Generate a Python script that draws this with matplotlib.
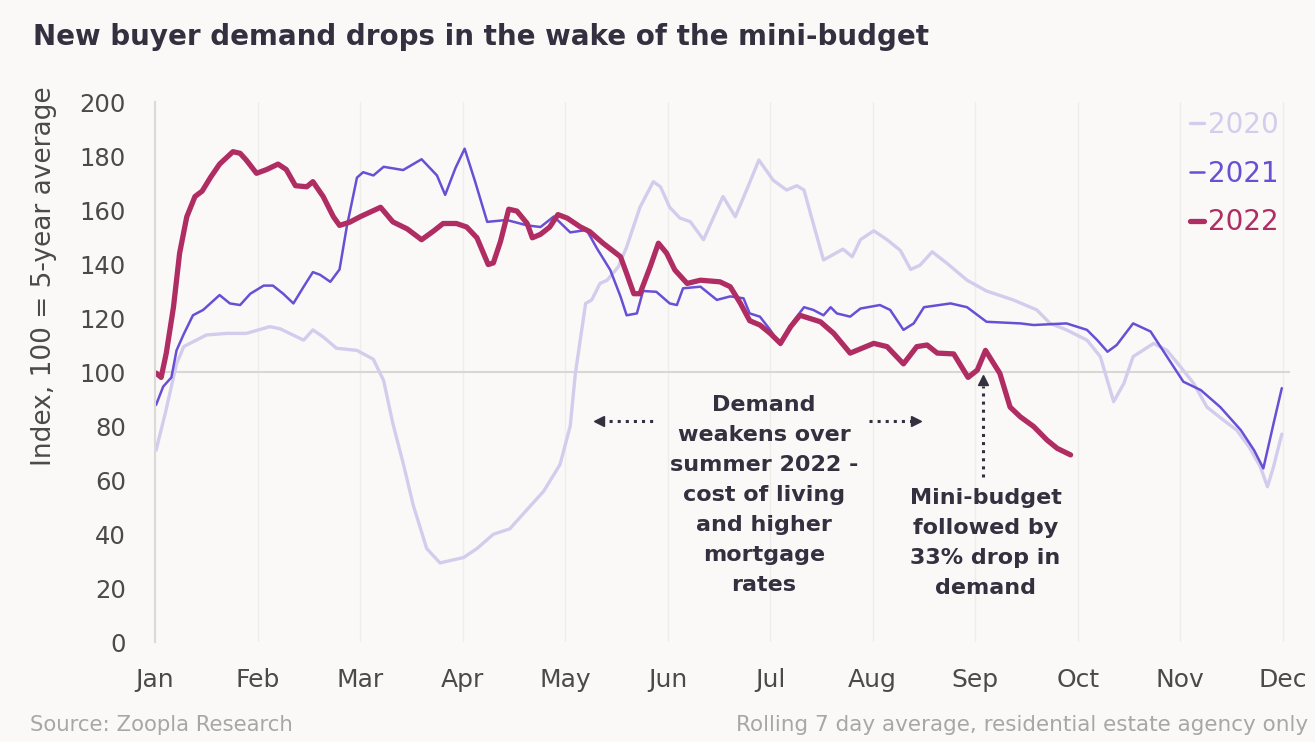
import matplotlib
matplotlib.use("Agg")
import matplotlib.pyplot as plt

months = ["Jan", "Feb", "Mar", "Apr", "May", "Jun", "Jul", "Aug", "Sep", "Oct", "Nov", "Dec"]
yticks = [0, 20, 40, 60, 80, 100, 120, 140, 160, 180, 200]

# x positions in months since 1 Jan, values = index (100 = 5-year average)
x_2020 = [0.01, 0.10, 0.21, 0.28, 0.50, 0.70, 0.89, 1.12, 1.22, 1.45, 1.54, 1.64, 1.77, 1.97,
          2.13, 2.23, 2.32, 2.42, 2.52, 2.65, 2.78, 3.01, 3.14, 3.30, 3.46, 3.63, 3.79, 3.95,
          4.05, 4.10, 4.20, 4.26, 4.34, 4.41, 4.52, 4.60, 4.73, 4.86, 4.93, 5.02, 5.12, 5.22,
          5.35, 5.45, 5.54, 5.66, 5.77, 5.89, 6.03, 6.16, 6.26, 6.33, 6.42, 6.52, 6.71, 6.80,
          6.88, 7.01, 7.14, 7.27, 7.37, 7.46, 7.58, 7.72, 7.92, 8.11, 8.37, 8.60, 8.73, 8.89,
          9.09, 9.22, 9.35, 9.45, 9.54, 9.74, 9.87, 10.00, 10.13, 10.26, 10.42, 10.55, 10.67,
          10.78, 10.85, 10.91, 10.99]
v_2020 = [71, 84.7, 103, 109.4, 113.7, 114.3, 114.3, 116.8, 116, 111.8, 115.6, 113, 108.8, 108,
          104.7, 96.8, 80.9, 66.3, 50.5, 34.6, 29.3, 31.3, 34.6, 39.9, 41.9, 49.1, 55.8, 65.7,
          80, 99.5, 125.4, 126.7, 132.8, 134, 139, 146.3, 161, 170.5, 168.6, 161, 157, 155.7,
          149, 157.5, 165, 157.5, 167.4, 178.5, 171, 167.4, 169, 167.4, 155, 141.5, 145.5, 142.7,
          149, 152.3, 149, 145, 138, 139.5, 144.5, 140.4, 134, 130, 126.7, 123, 118, 115.6,
          111.8, 105.7, 89, 95.8, 105.7, 110.6, 108, 102, 95.8, 87, 82.2, 78.5, 72.3,
          65, 57.5, 65, 77]

x_2021 = [0.01, 0.08, 0.16, 0.21, 0.28, 0.37, 0.47, 0.63, 0.73, 0.83, 0.93, 1.06, 1.15, 1.25,
          1.35, 1.45, 1.54, 1.61, 1.71, 1.80, 1.87, 1.97, 2.03, 2.13, 2.23, 2.42, 2.60, 2.75,
          2.83, 2.93, 3.02, 3.12, 3.24, 3.43, 3.63, 3.76, 3.89, 4.05, 4.21, 4.31, 4.44, 4.54,
          4.60, 4.70, 4.76, 4.89, 5.02, 5.09, 5.15, 5.32, 5.48, 5.61, 5.74, 5.80, 5.90, 6.00,
          6.10, 6.23, 6.33, 6.42, 6.52, 6.59, 6.65, 6.78, 6.88, 7.07, 7.17, 7.30, 7.40, 7.50,
          7.76, 7.92, 8.11, 8.44, 8.57, 8.89, 9.09, 9.19, 9.29, 9.38, 9.54, 9.71, 9.87, 10.03,
          10.20, 10.39, 10.59, 10.72, 10.81, 10.91, 10.99]
v_2021 = [87.8, 94.6, 98, 108, 114, 121, 123, 128.5, 125.4, 124.8, 129, 132, 132, 129,
          125.4, 131.6, 137, 136, 133.4, 138, 153.7, 172, 174, 172.8, 176, 174.8, 178.8, 172.8,
          165.6, 175.5, 182.7, 170.8, 155.6, 156.3, 154.3, 153.7, 157.6, 151.7, 152.6, 145.8, 137.8, 128,
          121, 121.7, 130, 129.7, 125.4, 124.8, 131, 131.6, 126.7, 128, 127.3, 121.7, 120.5, 115.6,
          110, 119, 124, 123, 121, 124, 121.7, 120.5, 123.5, 124.8, 123, 115.6, 118, 124,
          125.4, 124, 118.6, 118, 117.4, 118, 115.6, 111.8, 107.5, 110, 118, 115, 105.7, 96.4,
          93.3, 87, 78.5, 71, 64.3, 81, 94]

x_2022 = [0.01, 0.06, 0.11, 0.18, 0.24, 0.31, 0.39, 0.46, 0.54, 0.63, 0.76, 0.83, 0.89, 0.99,
          1.09, 1.20, 1.28, 1.37, 1.48, 1.54, 1.64, 1.74, 1.80, 1.90, 2.00, 2.20, 2.32, 2.46,
          2.60, 2.72, 2.81, 2.94, 3.04, 3.14, 3.25, 3.30, 3.37, 3.45, 3.53, 3.63, 3.68, 3.76,
          3.85, 3.93, 4.02, 4.15, 4.24, 4.37, 4.54, 4.60, 4.67, 4.73, 4.83, 4.91, 4.99, 5.07,
          5.19, 5.32, 5.51, 5.61, 5.71, 5.80, 5.90, 6.00, 6.10, 6.20, 6.29, 6.49, 6.62, 6.78,
          7.01, 7.14, 7.30, 7.43, 7.53, 7.63, 7.79, 7.93, 8.02, 8.10, 8.24, 8.34, 8.44, 8.57,
          8.70, 8.80, 8.93]
v_2022 = [99.6, 98, 107, 124, 144, 157.5, 165, 167, 172, 177, 181.6, 181, 178.5, 173.6,
          175, 177, 175, 169, 168.6, 170.5, 165, 157.5, 154.3, 155.5, 157.5, 161, 155.6, 153,
          149, 152.3, 155, 155, 153.7, 149.7, 139.8, 140.4, 148.4, 160.3, 159.6, 155, 149.7, 151,
          153.7, 158.3, 157, 153.7, 152, 147.7, 142.7, 136.5, 129, 129, 139, 147.7, 144, 137.8,
          132.8, 134, 133.4, 131.6, 125.4, 119, 117.4, 114.3, 110.6, 116.8, 121, 118.6, 114.3, 107,
          110.6, 109.4, 103, 109.4, 110, 107, 106.7, 98, 100.7, 108, 99.5, 87, 83.4, 79.8,
          74.8, 71.7, 69.3]

bg = "#faf9f7"
c2020 = "#d2cdec"
c2021 = "#6a4fd6"
c2022 = "#b02d63"
dark = "#35303f"
grey = "#4a4a4a"

plt.rcParams["font.family"] = ["DejaVu Sans"]

fig = plt.figure(figsize=(13.15, 7.42), dpi=100, facecolor=bg)
ax = fig.add_axes([155 / 1315, 100 / 742, (1290 - 155) / 1315, 540 / 742])
ax.set_facecolor(bg)

ax.plot(x_2020, v_2020, color=c2020, lw=2.4, label="2020", solid_capstyle="round")
ax.plot(x_2021, v_2021, color=c2021, lw=1.8, label="2021", solid_capstyle="round")
ax.plot(x_2022, v_2022, color=c2022, lw=3.8, label="2022", solid_capstyle="round")

ax.set_xlim(0, 11.07)
ax.set_ylim(0, 200)
ax.set_xticks(range(len(months)))
ax.set_xticklabels(months, fontsize=18, color=grey)
ax.set_yticks(yticks)
ax.set_yticklabels([str(t) for t in yticks], fontsize=17.5, color=grey)
ax.tick_params(length=0)
ax.tick_params(axis="x", pad=19)
ax.tick_params(axis="y", pad=21)

for m in range(1, len(months)):
    ax.axvline(m, color="#efedea", lw=1, zorder=0)
ax.axhline(100, color="#d9d7d4", lw=1.5, zorder=0)

for s in ["top", "right", "bottom"]:
    ax.spines[s].set_visible(False)
ax.spines["left"].set_color("#dcdad7")
ax.spines["left"].set_linewidth(1.5)

ax.set_ylabel("Index, 100 = 5-year average", fontsize=19, color=grey)
ax.yaxis.set_label_coords(-0.086, 0.678)

leg = ax.legend(loc="upper right", bbox_to_anchor=(1.012, 1.03), frameon=False, fontsize=20,
                handlelength=0.5, handletextpad=0.15, labelspacing=0.75, labelcolor="linecolor")

fig.text(33 / 1315, 1 - 37 / 742, "New buyer demand drops in the wake of the mini-budget",
         fontsize=20, fontweight="bold", color=dark, va="center", ha="left")

ax.text(5.94, 91.5, "Demand\nweakens over\nsummer 2022 -\ncost of living\nand higher\nmortgage\nrates",
        ha="center", va="top", fontsize=16, fontweight="bold", color=dark, linespacing=1.63)
ax.text(8.10, 57, "Mini-budget\nfollowed by\n33% drop in\ndemand",
        ha="center", va="top", fontsize=16, fontweight="bold", color=dark, linespacing=1.63)

# dotted arrows
ax.plot([4.35, 4.88], [82, 82], ls=":", lw=2.2, color=dark)
ax.plot([4.33], [82], marker="<", ms=7, color=dark)
ax.plot([6.96, 7.40], [82, 82], ls=":", lw=2.2, color=dark)
ax.plot([7.42], [82], marker=">", ms=7, color=dark)
ax.plot([8.08, 8.08], [61, 95], ls=":", lw=2.2, color=dark)
ax.plot([8.08], [97], marker="^", ms=7, color=dark)

fig.text(30 / 1315, 1 - 725 / 742, "Source: Zoopla Research", fontsize=15.3, color="#a9a7a5",
         ha="left", va="center")
fig.text(1308 / 1315, 1 - 725 / 742, "Rolling 7 day average, residential estate agency only",
         fontsize=15.5, color="#a9a7a5", ha="right", va="center")

fig.savefig("out.png", dpi=100, facecolor=bg)
